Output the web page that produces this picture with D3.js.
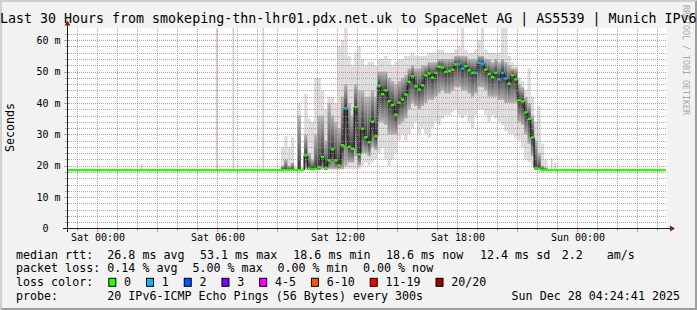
<!DOCTYPE html>
<html>
<head>
<meta charset="utf-8">
<script src="https://cdn.jsdelivr.net/npm/d3@7"></script>
<style>
  html, body { margin: 0; padding: 0; background: #f2f2f2; }
  svg { display: block; }
  text { font-family: "DejaVu Sans Mono", monospace; fill: #000; }
</style>
</head>
<body>
<svg id="chart" width="697" height="310"></svg>
<script>
// smokeping graph, last 30 hours

const titleText = "Last 30 Hours from smokeping-thn-lhr01.pdx.net.uk to SpaceNet AG | AS5539 | Munich IPv6";
const rangeStart = "2025-12-26T22:30:00Z";
const rangeEnd = "2025-12-28T04:30:00Z";
const upperLimit = 63.72;

// quiet periods: flat median, no smoke
const quietFrom = ["2025-12-26T22:30:00Z", "2025-12-27T22:30:00Z"];
const quietTo = ["2025-12-27T09:10:00Z", "2025-12-28T04:25:00Z"];
const quietMedian = [18.6, 18.6];

// single 5 min spikes inside the quiet periods
const spikeTimes = ["2025-12-27T02:10:00Z", "2025-12-27T05:55:00Z", "2025-12-27T06:45:00Z",
  "2025-12-27T08:15:00Z", "2025-12-27T22:40:00Z", "2025-12-27T22:50:00Z"];
const spikeMax = [20.5, 70, 70, 70, 22.5, 21];

// busy window, 10 minute steps from 09:10 Sat
const windowStart = "2025-12-27T09:10:00Z";
const stepMinutes = 10;

const medRtt = [
  18.6, 18.6, 18.6, 18.6, 18.6, 18.6, 18.6, 23.3, 19.1, 18.8,
  19.0, 19.6, 22.8, 19.3, 21.7, 25.2, 21.7, 20.1, 26.5, 38.3,
  26.0, 25.4, 38.7, 23.6, 31.8, 29.1, 27.5, 34.0, 29.4, 45.4,
  42.8, 44.0, 40.6, 39.3, 36.3, 40.1, 41.1, 42.7, 46.7, 48.5,
  45.3, 44.3, 45.6, 48.8, 49.4, 48.1, 49.6, 51.5, 51.3, 49.9,
  50.2, 50.6, 52.3, 52.5, 51.0, 51.7, 50.4, 49.6, 49.6, 52.8,
  52.5, 50.6, 49.2, 48.3, 49.6, 47.5, 49.6, 47.8, 46.2, 48.8,
  47.5, 40.9, 40.5, 37.0, 34.9, 29.0, 19.2, 19.0, 18.6, 18.6
];
const maxRtt = [
  26, 29.5, 26, 29, 19.5, 40, 19.5, 43, 35, 34,
  48, 48, 44, 38, 42, 42, 40, 58, 60, 64,
  55, 52, 56, 58, 54, 52, 53, 53, 52, 54,
  54, 55, 54, 52, 53, 54, 54, 55, 55, 56,
  55, 55, 55, 55, 56, 56, 56, 57, 57, 56,
  56, 56, 57, 58, 70, 57, 56, 56, 57, 60,
  70, 57, 56, 56, 56, 56, 70, 70, 55, 53,
  52, 48, 47, 44, 51, 42, 34, 39, 27, 22
];
const minRtt = [
  18.6, 18.6, 18.6, 18.6, 18.6, 18.6, 18.6, 18.6, 18.6, 18.6,
  18.6, 18.6, 18.6, 18.6, 18.6, 18.6, 18.6, 18.6, 18.6, 19,
  19, 19, 19, 19, 20, 21, 20, 21, 22, 24,
  26, 22, 20, 22, 24, 28, 30, 28, 30, 32,
  34, 30, 32, 30, 29, 32, 34, 33, 35, 36,
  36, 37, 38, 36, 35, 36, 34, 32, 36, 38,
  38, 36, 34, 36, 35, 34, 33, 31, 30, 30,
  29, 28, 26, 22, 21, 20, 18.6, 18.6, 18.6, 18.6
];
const coreHi = [
  20, 22, 20, 21, 19, 36, 19, 30, 24, 22,
  30, 36, 36, 28, 40, 36, 34, 32, 42, 46,
  40, 36, 46, 44, 44, 42, 42, 44, 42, 50,
  50, 50, 48, 47, 46, 47, 48, 49, 51, 52,
  51, 51, 52, 52, 53, 53, 53, 54, 54, 54,
  54, 54, 55, 55, 55, 55, 54, 54, 54, 55,
  55, 54, 54, 53, 54, 53, 54, 53, 52, 51,
  51, 46, 45, 42, 40, 36, 28, 24, 20, 19.5
];
const coreLo = [
  18.6, 18.6, 18.6, 18.6, 18.6, 18.6, 18.6, 19, 18.6, 18.6,
  18.6, 18.6, 19, 18.6, 19, 19, 19, 19, 19, 20,
  21, 21, 23, 20, 24, 24, 23, 26, 25, 34,
  34, 33, 30, 30, 30, 33, 34, 35, 38, 40,
  39, 38, 39, 40, 41, 41, 42, 43, 44, 43,
  43, 44, 45, 45, 44, 44, 43, 42, 43, 45,
  45, 44, 42, 42, 42, 41, 41, 40, 40, 40,
  40, 34, 33, 30, 27, 23, 18.6, 18.6, 18.6, 18.6
];
const lossCount = [
  0, 0, 0, 0, 0, 0, 0, 0, 0, 0,
  0, 0, 0, 0, 0, 0, 0, 0, 0, 1,
  0, 0, 0, 0, 0, 0, 0, 0, 0, 0,
  0, 0, 0, 0, 0, 0, 0, 0, 0, 0,
  0, 0, 0, 0, 0, 0, 0, 0, 0, 0,
  0, 0, 0, 1, 1, 0, 0, 0, 1, 1,
  1, 0, 0, 0, 0, 1, 1, 1, 0, 0,
  0, 0, 0, 0, 0, 0, 0, 0, 0, 0
];

// legend
const lossLabels = ["0", "1", "2", "3", "4-5", "6-10", "11-19", "20/20"];
const lossColors = ["#26ff00", "#00b8ff", "#0059ff", "#7e00ff", "#ff00ff", "#ff5500", "#ff0000", "#a10000"];
const rttStats = [26.8, 53.1, 18.6, 18.6, 12.4];
const rttStatNames = ["avg", "max", "min", "now", "sd"];
const amsValue = 2.2;
const lossStats = [0.14, 5.00, 0.00, 0.00];
const lossStatNames = ["avg", "max", "min", "now"];
const probeText = "20 IPv6-ICMP Echo Pings (56 Bytes) every 300s";
const stampText = "Sun Dec 28 04:24:41 2025";

const W = 697, H = 310;
const plot = { left: 67, right: 667, top: 28.5, bottom: 228.5 };

const svg = d3.select("#chart");
const defs = svg.append("defs");

// background and 3d frame
svg.append("rect").attr("width", W).attr("height", H).attr("fill", "#f2f2f2");
svg.append("path")
  .attr("d", `M0,0 H${W} L${W - 2},2 H2 V${H - 2} L0,${H} Z`)
  .attr("fill", "#cfcfcf");
svg.append("path")
  .attr("d", `M${W},0 V${H} H0 L2,${H - 2} H${W - 2} V2 Z`)
  .attr("fill", "#9e9e9e");

// scales
const x = d3.scaleUtc()
  .domain([new Date(rangeStart), new Date(rangeEnd)])
  .range([plot.left + 0.5, plot.right + 0.5]);

const y = d3.scaleLinear()
  .domain([0, upperLimit])
  .range([plot.bottom, plot.top]);

svg.append("rect")
  .attr("x", plot.left).attr("y", plot.top - 0.5)
  .attr("width", plot.right - plot.left).attr("height", plot.bottom - plot.top + 0.5)
  .attr("fill", "#ffffff");

defs.append("clipPath").attr("id", "clip")
  .append("rect")
  .attr("x", plot.left).attr("y", plot.top - 0.5)
  .attr("width", plot.right - plot.left).attr("height", plot.bottom - plot.top);

const g = svg.append("g").attr("clip-path", "url(#clip)");

// steps of the busy window
const t0 = new Date(windowStart);
const steps = medRtt.map((m, i) => ({
  i,
  t: d3.utcMinute.offset(t0, i * stepMinutes),
  t1: d3.utcMinute.offset(t0, (i + 1) * stepMinutes),
  med: m, hi: maxRtt[i], lo: minRtt[i], chi: coreHi[i], clo: coreLo[i], loss: lossCount[i]
}));

// smoke shading: darkest at the median, lighter towards the core edges
steps.forEach(d => {
  const span = y(d.clo) - y(d.chi);
  const m = span > 0 ? Math.max(0, Math.min(1, (y(d.med) - y(d.chi)) / span)) : 0.5;
  const grad = defs.append("linearGradient")
    .attr("id", `smoke${d.i}`)
    .attr("x1", 0).attr("y1", 0).attr("x2", 0).attr("y2", 1);
  grad.append("stop").attr("offset", 0).attr("stop-color", "#b8b8b8");
  grad.append("stop").attr("offset", m).attr("stop-color", "#383838");
  grad.append("stop").attr("offset", 1).attr("stop-color", "#b0b0b0");
});

// smoke, outer band
g.selectAll("rect.smoke-outer")
  .data(steps)
  .join("rect")
  .attr("class", "smoke-outer")
  .attr("x", d => x(d.t))
  .attr("width", d => x(d.t1) - x(d.t))
  .attr("y", d => y(d.hi))
  .attr("height", d => y(d.lo) - y(d.hi))
  .attr("fill", "#dcdcdc");

// single spikes
const spikes = spikeTimes.map((s, i) => ({ t: new Date(s), hi: spikeMax[i] }));
g.selectAll("rect.spike")
  .data(spikes)
  .join("rect")
  .attr("class", "spike")
  .attr("x", d => x(d.t))
  .attr("width", d => x(d3.utcMinute.offset(d.t, 5)) - x(d.t))
  .attr("y", d => y(d.hi))
  .attr("height", d => y(quietMedian[0]) - y(d.hi))
  .attr("fill", "#d0d0d0");

// smoke, core band
g.selectAll("rect.smoke-core")
  .data(steps)
  .join("rect")
  .attr("class", "smoke-core")
  .attr("x", d => x(d.t))
  .attr("width", d => x(d.t1) - x(d.t))
  .attr("y", d => y(d.chi))
  .attr("height", d => y(d.clo) - y(d.chi))
  .attr("fill", d => `url(#smoke${d.i})`);

// dark connectors between medians
g.selectAll("line.conn")
  .data(steps.slice(1).map((d, i) => ({ t: d.t, a: steps[i].med, b: d.med })))
  .join("line")
  .attr("class", "conn")
  .attr("x1", d => x(d.t)).attr("x2", d => x(d.t))
  .attr("y1", d => y(d.a)).attr("y2", d => y(d.b))
  .attr("stroke", "#222")
  .attr("stroke-width", 1.4);

// median, coloured by loss
g.selectAll("line.med")
  .data(steps)
  .join("line")
  .attr("class", "med")
  .attr("x1", d => x(d.t)).attr("x2", d => x(d.t1))
  .attr("y1", d => y(d.med)).attr("y2", d => y(d.med))
  .attr("stroke", d => lossColors[d.loss])
  .attr("stroke-width", 2.4);

const quiet = quietFrom.map((f, i) => ({ from: new Date(f), to: new Date(quietTo[i]), med: quietMedian[i] }));
g.selectAll("line.quiet")
  .data(quiet)
  .join("line")
  .attr("class", "quiet")
  .attr("x1", d => x(d.from)).attr("x2", d => x(d.to))
  .attr("y1", d => y(d.med)).attr("y2", d => y(d.med))
  .attr("stroke", lossColors[0])
  .attr("stroke-width", 2.2);

// grid (drawn over the data like rrdtool)
const grid = svg.append("g").attr("shape-rendering", "crispEdges");
const minorColor = "rgba(143,143,143,0.75)";
const majorColor = "rgba(222,79,79,0.6)";

const hoursMinor = d3.utcHour.every(1).range(new Date(rangeStart), new Date(rangeEnd))
  .filter(t => t.getUTCHours() % 3 !== 0);
const hoursMajor = d3.utcHour.every(3).range(new Date(rangeStart), new Date(rangeEnd));
const yMinor = d3.range(2, upperLimit, 2).filter(v => v % 10 !== 0);
const yMajor = d3.range(10, upperLimit, 10);

grid.selectAll("line.hmin")
  .data(yMinor).join("line")
  .attr("x1", plot.left).attr("x2", plot.right)
  .attr("y1", d => Math.round(y(d)) + 0.5).attr("y2", d => Math.round(y(d)) + 0.5)
  .attr("stroke", minorColor).attr("stroke-dasharray", "1,1");
grid.selectAll("line.vmin")
  .data(hoursMinor).join("line")
  .attr("x1", d => x(d)).attr("x2", d => x(d))
  .attr("y1", plot.top).attr("y2", plot.bottom)
  .attr("stroke", minorColor).attr("stroke-dasharray", "1,1");
grid.selectAll("line.hmaj")
  .data(yMajor).join("line")
  .attr("x1", plot.left).attr("x2", plot.right)
  .attr("y1", d => Math.round(y(d)) + 0.5).attr("y2", d => Math.round(y(d)) + 0.5)
  .attr("stroke", majorColor).attr("stroke-dasharray", "1,1");
grid.selectAll("line.vmaj")
  .data(hoursMajor).join("line")
  .attr("x1", d => x(d)).attr("x2", d => x(d))
  .attr("y1", plot.top).attr("y2", plot.bottom)
  .attr("stroke", majorColor).attr("stroke-dasharray", "1,1");

// tick marks on the axes
grid.selectAll("line.xtmin").data(hoursMinor).join("line")
  .attr("x1", d => x(d)).attr("x2", d => x(d))
  .attr("y1", plot.bottom - 2).attr("y2", plot.bottom + 2)
  .attr("stroke", minorColor);
grid.selectAll("line.xtmaj").data(hoursMajor).join("line")
  .attr("x1", d => x(d)).attr("x2", d => x(d))
  .attr("y1", plot.bottom - 2).attr("y2", plot.bottom + 3)
  .attr("stroke", majorColor);
grid.selectAll("line.ytmin").data(yMinor).join("line")
  .attr("x1", plot.left - 2).attr("x2", plot.left + 2)
  .attr("y1", d => Math.round(y(d)) + 0.5).attr("y2", d => Math.round(y(d)) + 0.5)
  .attr("stroke", minorColor);
grid.selectAll("line.ytmaj").data(yMajor).join("line")
  .attr("x1", plot.left - 3).attr("x2", plot.left + 2)
  .attr("y1", d => Math.round(y(d)) + 0.5).attr("y2", d => Math.round(y(d)) + 0.5)
  .attr("stroke", majorColor);

// axis lines + arrows
const axisColor = "#1f1f1f";
const arrowColor = "#801f1f";
svg.append("line")
  .attr("x1", plot.left - 4).attr("x2", plot.right + 5)
  .attr("y1", plot.bottom).attr("y2", plot.bottom)
  .attr("stroke", axisColor).attr("shape-rendering", "crispEdges");
svg.append("line")
  .attr("x1", plot.left + 0.5).attr("x2", plot.left + 0.5)
  .attr("y1", plot.bottom + 3.5).attr("y2", plot.top - 4)
  .attr("stroke", axisColor).attr("shape-rendering", "crispEdges");
svg.append("path")
  .attr("d", `M${plot.right + 8},${plot.bottom} l-5,-3 v6 Z`)
  .attr("fill", arrowColor);
svg.append("path")
  .attr("d", `M${plot.left + 0.5},${plot.top - 8} l-3,5 h6 Z`)
  .attr("fill", arrowColor);

// x labels
const xAxis = svg.append("g")
  .attr("transform", `translate(0,${plot.bottom})`)
  .call(d3.axisBottom(x)
    .ticks(d3.utcHour.every(6))
    .tickFormat(d3.utcFormat("%a %H:%M"))
    .tickSize(0));
xAxis.select(".domain").remove();
xAxis.selectAll("text")
  .attr("y", 12.5).attr("dy", null)
  .style("font-family", "'DejaVu Sans Mono', monospace")
  .style("font-size", "10px");

// y labels
const yAxis = svg.append("g")
  .attr("transform", `translate(${plot.left},0)`)
  .call(d3.axisLeft(y)
    .tickValues(d3.range(0, upperLimit, 10))
    .tickFormat(d => d ? `${d} m` : "0")
    .tickSize(0)
    .tickPadding(6.5));
yAxis.select(".domain").remove();
yAxis.selectAll("text")
  .attr("dx", d => d ? 0 : -12)
  .style("font-family", "'DejaVu Sans Mono', monospace")
  .style("font-size", "10px");

// vertical axis title
svg.append("text")
  .attr("transform", "translate(14,127.5) rotate(-90)")
  .attr("text-anchor", "middle")
  .style("font-size", "11.67px")
  .text("Seconds");

// watermark
svg.append("text")
  .attr("transform", "translate(682.5,5) rotate(90)")
  .style("font-size", "8.3px")
  .style("fill", "#a8a8a8")
  .text("RRDTOOL / TOBI OETIKER");

// title
svg.append("text")
  .attr("x", 0).attr("y", 23)
  .style("font-size", "13.3px")
  .text(titleText);

// legend
const leg = svg.append("g").style("font-size", "11.67px");
const legText = (px, py, s) => leg.append("text").attr("x", px).attr("y", py).text(s);

const row1 = 258.5, row2 = 272, row3 = 285.8, row4 = 299.5;
legText(16, row1, "median rtt:");
const rttX = [107.3, 200, 293.3, 386, 480];
rttStats.forEach((v, i) => legText(rttX[i], row1, `${v.toFixed(1)} ms ${rttStatNames[i]}`));
legText(561.7, row1, amsValue.toFixed(1));
legText(606.7, row1, "am/s");

legText(16, row2, "packet loss:");
const lossX = [107.3, 192.5, 277.5, 363];
lossStats.forEach((v, i) => legText(lossX[i], row2, `${v.toFixed(2)} % ${lossStatNames[i]}`));

legText(16, row3, "loss color:");
let cx = 108.3;
lossLabels.forEach((lab, i) => {
  leg.append("rect")
    .attr("x", cx + 0.5).attr("y", row3 - 7.5)
    .attr("width", 7).attr("height", 8)
    .attr("fill", lossColors[i])
    .attr("stroke", "#000").attr("stroke-width", 1);
  legText(cx + 15.7, row3, lab);
  cx = cx + 15.7 + lab.length * 7.02 + 15;
});

legText(16, row4, "probe:");
legText(107.3, row4, probeText);
legText(680, row4, stampText).attr("text-anchor", "end");
</script>
</body>
</html>
